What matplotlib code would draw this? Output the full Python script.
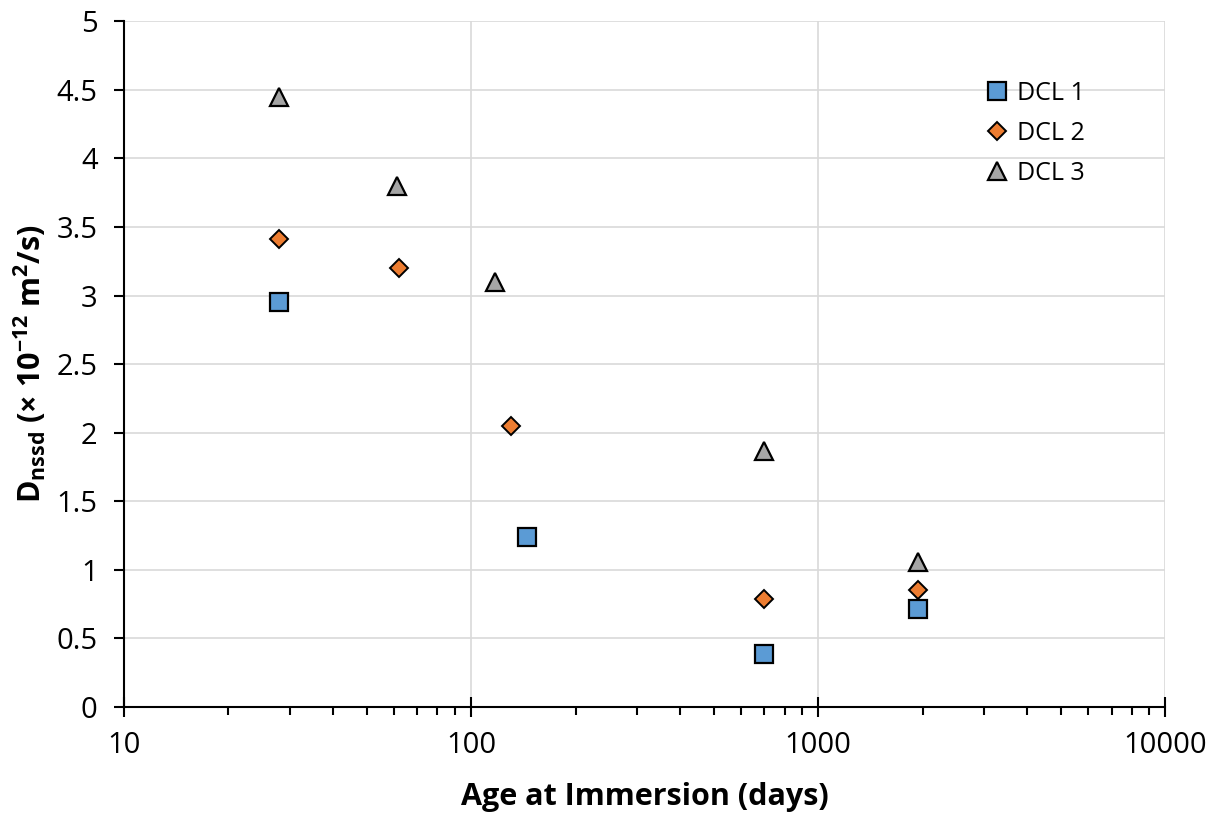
import matplotlib
matplotlib.use("Agg")
import matplotlib.pyplot as plt
from matplotlib.ticker import FixedLocator, LogLocator, NullFormatter, FuncFormatter

plt.rcParams["font.family"] = ["Open Sans", "DejaVu Sans"]

# data
dcl1_days = [28, 145, 700, 1940]
dcl1_d = [2.95, 1.24, 0.385, 0.715]
dcl2_days = [28, 62, 130, 700, 1940]
dcl2_d = [3.41, 3.20, 2.05, 0.79, 0.85]
dcl3_days = [28, 61, 117, 700, 1940]
dcl3_d = [4.45, 3.80, 3.10, 1.87, 1.06]

fig = plt.figure(figsize=(12.17, 8.16), dpi=100)
ax = fig.add_axes([0.1019, 0.1336, 0.8556, 0.8404])

ax.plot(dcl1_days, dcl1_d, ls="none", marker="s", ms=12.5, mfc="#5B9BD5",
        mec="black", mew=1.6, label="DCL 1", zorder=3)
ax.plot(dcl2_days, dcl2_d, ls="none", marker="D", ms=9.5, mfc="#ED7D31",
        mec="black", mew=1.4, label="DCL 2", zorder=3)
ax.plot(dcl3_days, dcl3_d, ls="none", marker="^", ms=13, mfc="#A5A5A5",
        mec="black", mew=1.6, label="DCL 3", zorder=3)

ax.set_xscale("log")
ax.set_xlim(10, 10000)
ax.set_ylim(0, 5)
ax.yaxis.set_major_locator(FixedLocator([i * 0.5 for i in range(11)]))
ax.yaxis.set_major_formatter(FuncFormatter(lambda v, p: f"{v:g}"))
ax.xaxis.set_major_locator(FixedLocator([10, 100, 1000, 10000]))
ax.xaxis.set_major_formatter(FuncFormatter(lambda v, p: f"{v:.0f}"))
ax.xaxis.set_minor_locator(LogLocator(base=10, subs=range(2, 10)))
ax.xaxis.set_minor_formatter(NullFormatter())

ax.grid(True, which="major", color="#d9d9d9", lw=1.2)
ax.set_axisbelow(True)
for s in ["top", "right"]:
    ax.spines[s].set_visible(False)
for s in ["left", "bottom"]:
    ax.spines[s].set_linewidth(1.5)

ax.tick_params(axis="x", which="major", direction="inout", length=14, width=1.5,
               labelsize=21, pad=10)
ax.tick_params(axis="x", which="minor", direction="out", length=6, width=1.5)
ax.tick_params(axis="y", which="major", direction="out", length=7, width=1.5,
               labelsize=21, pad=12)

ax.set_xlabel("Age at Immersion (days)", fontsize=22, fontweight="bold", labelpad=16)
ax.set_ylabel(r"D$_{\mathregular{nssd}}$ (× 10$^{\mathregular{-12}}$ m$^{\mathregular{2}}$/s)",
              fontsize=22, fontweight="bold", labelpad=6)

leg = ax.legend(loc="upper left", bbox_to_anchor=(0.8215, 0.92), borderaxespad=0,
                frameon=False, fontsize=18, handlelength=1.0, handletextpad=0.3,
                labelspacing=0.6, borderpad=0.2)

fig.savefig("out.png", dpi=100)
